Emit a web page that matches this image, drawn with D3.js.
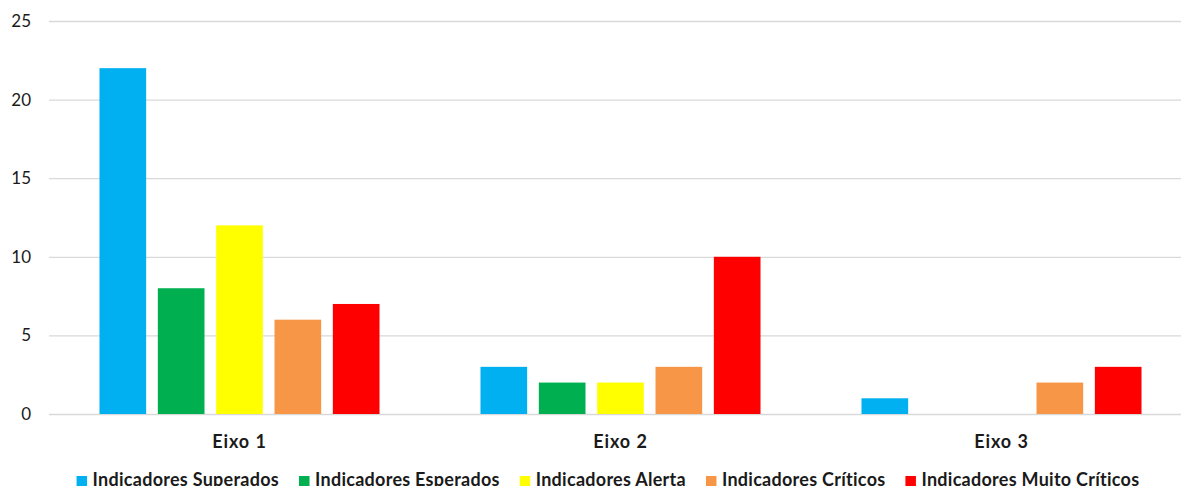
<!DOCTYPE html>
<html>
<head>
<meta charset="utf-8">
<script src="https://cdn.jsdelivr.net/npm/d3@7"></script>
<style>
  html, body { margin: 0; padding: 0; background: #fff; overflow: hidden; }
  svg { display: block; }
  text { font-family: Lato, "Open Sans", sans-serif; fill: #1a1a1a; }
</style>
</head>
<body>
<svg id="chart" width="1181" height="486"></svg>
<script>
// Eixos avaliados
const categories = ["Eixo 1", "Eixo 2", "Eixo 3"];

// Séries de indicadores
const seriesNames = [
  "Indicadores Superados",
  "Indicadores Esperados",
  "Indicadores Alerta",
  "Indicadores Críticos",
  "Indicadores Muito Críticos"
];
const seriesColors = ["#00B0F0", "#00B050", "#FFFF00", "#F79646", "#FF0000"];

// Quantidade de indicadores por eixo, uma lista por série
const superados = [22, 3, 1];
const esperados = [8, 2, 0];
const alerta = [12, 2, 0];
const criticos = [6, 3, 2];
const muitoCriticos = [7, 10, 3];

const yTicks = [0, 5, 10, 15, 20, 25];

const seriesValues = [superados, esperados, alerta, criticos, muitoCriticos];

const svg = d3.select("#chart");
const margin = { left: 49, right: -11, top: 21, bottom: 72 };
const W = 1181, H = 486;
const plotRight = W - margin.right;
const plotBottom = H - margin.bottom;

const x0 = d3.scaleBand()
  .domain(categories)
  .range([margin.left, plotRight])
  .paddingInner(0)
  .paddingOuter(0);

const groupWidth = x0.bandwidth() * 0.735;
const x1 = d3.scaleBand()
  .domain(seriesNames)
  .range([0, groupWidth])
  .paddingInner(0.2)
  .paddingOuter(0);

const y = d3.scaleLinear()
  .domain([0, 25])
  .range([plotBottom, margin.top]);

// Linhas de grade horizontais
const yAxis = d3.axisLeft(y)
  .tickValues(yTicks)
  .tickSize(-(plotRight - margin.left))
  .tickPadding(18)
  .tickFormat(d3.format("d"));

const gy = svg.append("g")
  .attr("transform", `translate(${margin.left},0)`)
  .call(yAxis);
gy.select(".domain").remove();
gy.selectAll(".tick line").attr("stroke", "#d9d9d9").attr("stroke-width", 1.3);
gy.selectAll(".tick text")
  .style("font-size", "17px")
  .style("fill", "#1a1a1a")
  .attr("font-family", "Lato, 'Open Sans', sans-serif");

// Barras agrupadas
const groups = svg.append("g")
  .selectAll("g")
  .data(categories)
  .join("g")
  .attr("transform", c => `translate(${x0(c) + (x0.bandwidth() - groupWidth) / 2},0)`);

groups.selectAll("rect")
  .data((c, ci) => seriesNames.map((s, si) => ({ s, si, v: seriesValues[si][ci] })))
  .join("rect")
  .filter(d => d.v > 0)
  .attr("x", d => x1(d.s))
  .attr("width", x1.bandwidth())
  .attr("y", d => y(d.v))
  .attr("height", d => y(0) - y(d.v))
  .attr("fill", d => seriesColors[d.si]);

// Rótulos dos eixos (categorias)
const xAxis = d3.axisBottom(x0).tickSize(0).tickPadding(21);
const gx = svg.append("g")
  .attr("transform", `translate(0,${plotBottom})`)
  .call(xAxis);
gx.select(".domain").remove();
gx.selectAll(".tick text")
  .style("font-size", "18px")
  .style("font-weight", "bold")
  .style("letter-spacing", "0.9px")
  .style("fill", "#1a1a1a")
  .attr("font-family", "Lato, 'Open Sans', sans-serif");

// Legenda
const legend = svg.append("g");
const items = legend.selectAll("g")
  .data(seriesNames)
  .join("g");
items.append("rect")
  .attr("width", 10.5)
  .attr("height", 10.5)
  .attr("y", -9.5)
  .attr("fill", (d, i) => seriesColors[i]);
items.append("text")
  .attr("x", 16)
  .attr("y", 0)
  .style("font-size", "18px")
  .style("font-weight", "bold")
  .style("letter-spacing", "0.27px")
  .text(d => d);

let offset = 0;
const gap = 20;
items.each(function () {
  const g = d3.select(this);
  g.attr("transform", `translate(${offset},0)`);
  offset += 16 + g.select("text").node().getComputedTextLength() + gap;
});
const totalW = offset - gap;
legend.attr("transform", `translate(${608 - totalW / 2},485.5)`);
</script>
</body>
</html>
